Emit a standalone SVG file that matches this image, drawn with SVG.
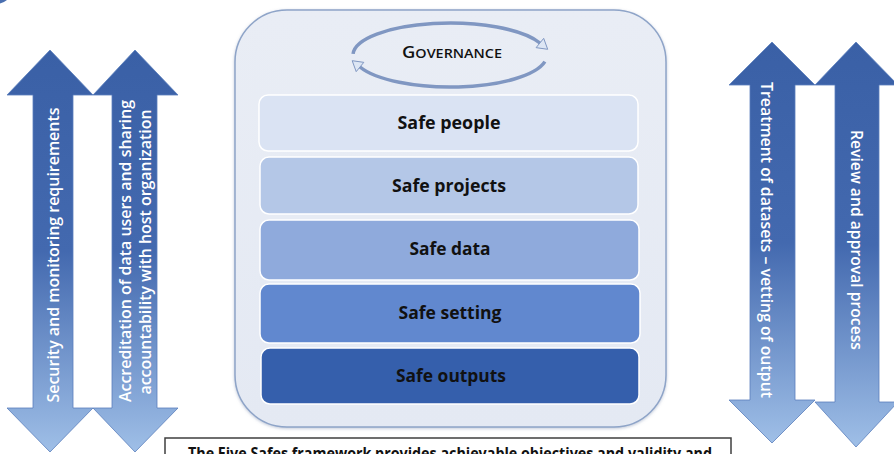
<svg xmlns="http://www.w3.org/2000/svg" width="894" height="454" viewBox="0 0 894 454">
<style>
.arw{stroke:#5b7fbd;stroke-width:0.8}
.atxt{font-family:"Open Sans","Liberation Sans",sans-serif;font-weight:600;font-size:15.5px;fill:#ffffff;text-anchor:middle;dominant-baseline:central}
.layer{stroke:#ffffff;stroke-width:1.5}
.ltxt{font-family:"Open Sans","Liberation Sans",sans-serif;font-weight:700;font-size:18px;fill:#111111;text-anchor:middle}
.gov{fill:none;stroke:#8097c2;stroke-width:3.5}
.govhead{fill:#dde6f4;stroke:#8097c2;stroke-width:1}
</style>
<defs>
<linearGradient id="ag" x1="0" y1="0" x2="0" y2="1">
<stop offset="0" stop-color="#3a60a6"/>
<stop offset="0.5" stop-color="#4369af"/>
<stop offset="1" stop-color="#9fbfe7"/>
</linearGradient>
<linearGradient id="pg" x1="0" y1="0" x2="0" y2="1">
<stop offset="0" stop-color="#e9edf5"/>
<stop offset="1" stop-color="#e4e9f3"/>
</linearGradient>
<filter id="sh" x="-5%" y="-5%" width="110%" height="110%">
<feDropShadow dx="0" dy="1" stdDeviation="1.5" flood-color="#8090b0" flood-opacity="0.5"/>
</filter>
</defs>
<path d="M0,0 L7,0 Q4,2.5 0,3.5 Z" fill="#4a6fb0"/>
<g id="arrow-security">
<polygon class="arw" fill="url(#ag)" points="50,50 93,95 73,95 73,408 93,408 50,452 7,408 33,408 33,95 7,95"/>
<text class="atxt" transform="translate(53,255) rotate(-90)" textLength="295" lengthAdjust="spacingAndGlyphs">Security and monitoring requirements</text>
</g>
<g id="arrow-accreditation">
<polygon class="arw" fill="url(#ag)" points="135,50 178,95 157,95 157,408 178,408 135,452 93,408 112,408 112,95 93,95"/>
<text class="atxt" transform="translate(125,251) rotate(-90)" textLength="302" lengthAdjust="spacingAndGlyphs">Accreditation of data users and sharing</text>
<text class="atxt" transform="translate(145,252) rotate(-90)" textLength="285" lengthAdjust="spacingAndGlyphs">accountability with host organization</text>
</g>
<g id="arrow-treatment">
<polygon class="arw" fill="url(#ag)" points="772,42 815,85 795,85 795,400 815,400 772,443 729,400 750,400 750,85 729,85"/>
<text class="atxt" transform="translate(767,240) rotate(90)" textLength="316" lengthAdjust="spacingAndGlyphs">Treatment of datasets – vetting of output</text>
</g>
<g id="arrow-review">
<polygon class="arw" fill="url(#ag)" points="856,42 898,85 879,85 879,402 898,402 856,447 815,402 835,402 835,85 815,85"/>
<text class="atxt" transform="translate(857,240) rotate(90)" textLength="220" lengthAdjust="spacingAndGlyphs">Review and approval process</text>
</g>
<g id="panel">
<rect x="235" y="10" width="431" height="417" rx="52" ry="52" fill="url(#pg)" stroke="#8ea4c8" stroke-width="1.5" filter="url(#sh)"/>
</g>
<g id="governance">
<path class="gov" d="M353.1,53.9 A97,32 0 0 1 539.9,43"/>
<polygon class="govhead" points="547.7,49.3 536.1,47.65 543.7,38.35"/>
<path class="gov" d="M544.9,61.65 A97,32 0 0 1 360,67"/>
<polygon class="govhead" points="352.2,60.7 363.8,62.35 356.2,71.65"/>
<text x="452" y="58" font-family="Open Sans, Liberation Sans, sans-serif" font-weight="600" fill="#111111" text-anchor="middle" textLength="100" lengthAdjust="spacingAndGlyphs"><tspan font-size="16">G</tspan><tspan font-size="12.5">OVERNANCE</tspan></text>
</g>
<g id="safe-people">
<rect class="layer" x="259" y="95" width="379" height="56" rx="9" fill="#dae3f3"/>
<text class="ltxt" x="449" y="129" textLength="103" lengthAdjust="spacingAndGlyphs">Safe people</text>
</g>
<g id="safe-projects">
<rect class="layer" x="260" y="157" width="378" height="57" rx="9" fill="#b4c7e7"/>
<text class="ltxt" x="449" y="192" textLength="114" lengthAdjust="spacingAndGlyphs">Safe projects</text>
</g>
<g id="safe-data">
<rect class="layer" x="260" y="220" width="379" height="60" rx="9" fill="#8faadc"/>
<text class="ltxt" x="450" y="255" textLength="81" lengthAdjust="spacingAndGlyphs">Safe data</text>
</g>
<g id="safe-setting">
<rect class="layer" x="260" y="284" width="380" height="59" rx="9" fill="#6188cf"/>
<text class="ltxt" x="450" y="319" textLength="103" lengthAdjust="spacingAndGlyphs">Safe setting</text>
</g>
<g id="safe-outputs">
<rect class="layer" x="261" y="348" width="378" height="56" rx="9" fill="#355fac"/>
<text class="ltxt" x="451" y="382" textLength="110" lengthAdjust="spacingAndGlyphs">Safe outputs</text>
</g>
<g id="caption">
<rect x="165" y="438" width="566" height="30" fill="#ffffff" stroke="#3f3f3f" stroke-width="1.5"/>
<text x="188" y="459" font-family="Open Sans, Liberation Sans, sans-serif" font-weight="700" font-size="16" fill="#111111" textLength="524" lengthAdjust="spacingAndGlyphs">The Five Safes framework provides achievable objectives and validity and</text>
</g>
</svg>
